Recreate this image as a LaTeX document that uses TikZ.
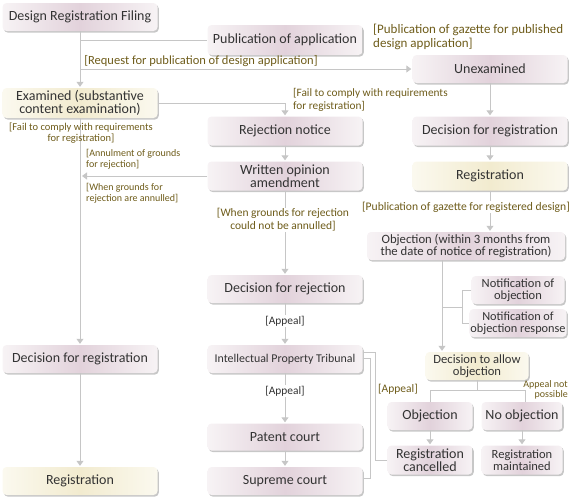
\documentclass[tikz,border=0pt]{standalone}
\usepackage{fontspec}
\usetikzlibrary{arrows.meta,shadows,calc}
\newfontfamily\boxfnt{Carlito}
\definecolor{bp}{HTML}{E2D2DB}
\definecolor{bw}{HTML}{F7F3F5}
\definecolor{yp}{HTML}{F2EBCF}
\definecolor{yw}{HTML}{FBF9EF}
\definecolor{txt}{HTML}{333333}
\definecolor{olv}{HTML}{6E5C1A}
\definecolor{lnc}{HTML}{C6C6C6}
\newcommand{\fs}[2]{\boxfnt\fontsize{#1}{#2}\selectfont}
\begin{document}
\begin{tikzpicture}[x=1pt,y=-1pt,
  box/.style={rounded corners=4pt, left color=bw, right color=bw, middle color=bp,
    drop shadow={shadow xshift=1.3pt, shadow yshift=-1.6pt, fill=black, opacity=0.22},
    minimum width=155pt, minimum height=28pt, inner sep=1pt, text=txt, align=center,
    font=\fs{14}{13.5}},
  ybox/.style={box, left color=yw, right color=yw, middle color=yp},
  ln/.style={draw=lnc, line width=1pt},
  arr/.style={ln, -{Triangle[width=7pt,length=5pt]}, shorten >=1pt},
  lbl/.style={text=olv, font=\fs{11.5}{12}, inner sep=1pt},
  blbl/.style={text=txt, font=\fs{11.4}{12}, inner sep=1pt, fill=white}
]
\useasboundingbox (0,0) rectangle (570,496);
% boxes
\node[box] (filing) at (80,17) {Design Registration Filing};
\node[box, minimum height=30pt] (pubapp) at (285,40) {Publication of application};
\node[box] (unexam) at (490,69) {Unexamined};
\node[ybox, minimum height=30pt, font=\fs{14}{13}] (exam) at (80,103) {Examined (substantive\\content examination)};
\node[box, minimum height=29pt] (rejn) at (285,131) {Rejection notice};
\node[box, minimum height=29pt] (decregR) at (490,131) {Decision for registration};
\node[box, minimum height=29pt, font=\fs{14}{13}] (written) at (285,176) {Written opinion\\amendment};
\node[ybox, minimum height=29pt] (regR) at (490,176) {Registration};
\node[box, minimum width=198pt, font=\fs{12.7}{12.5}] (objn) at (466,246) {Objection (within 3 months from\\the date of notice of registration)};
\node[box] (decrej) at (285,289) {Decision for rejection};
\node[box, minimum width=93pt, font=\fs{12.5}{12.3}] (notif1) at (518,290) {Notification of\\objection};
\node[box, minimum width=93pt, font=\fs{12.3}{12.2}] (notif2) at (518,323) {Notification of\\objection response};
\node[box] (decregL) at (80,359) {Decision for registration};
\node[box, font=\fs{11.9}{12}] (ipt) at (285,359) {Intellectual Property Tribunal};
\node[ybox, minimum width=103pt, font=\fs{12.6}{12.5}] (allow) at (477,366) {Decision to allow\\objection};
\node[box, minimum width=85pt] (obj) at (430,416) {Objection};
\node[box, minimum width=81pt] (noobj) at (522,416) {No objection};
\node[box, minimum height=27pt] (patent) at (285,437) {Patent court};
\node[box, minimum width=85pt, minimum height=29pt, font=\fs{14}{13}] (regcan) at (430,460) {Registration\\cancelled};
\node[box, minimum width=81pt, minimum height=29pt, font=\fs{12.5}{12.3}] (regmain) at (522,460) {Registration\\maintained};
\node[box] (supreme) at (285,481) {Supreme court};
\node[ybox] (regL) at (80,481) {Registration};
% connectors
\draw[arr] (filing.south) -- (exam.north);
\draw[ln] (filing.south |- pubapp.west) -- (pubapp.west);
\draw[arr] (filing.south |- unexam.west) -- (unexam.west);
\node[lbl, font=\fs{12.5}{13}] (lreq) at (201,61) {[Request for publication of design application]};
\node[lbl, anchor=west, align=left, font=\fs{13}{14}] (lgaz) at (372,37) {[Publication of gazette for published\\design application]};
\draw[arr] (unexam) -- (decregR);
\draw[arr] (decregR) -- (regR);
\draw[arr] (regR.south) -- (regR.south |- objn.north);
\node[lbl, fill=white, font=\fs{11.6}{12}] (lgreg) at (466,207) {[Publication of gazette for registered design]};
\draw[arr] (exam.east) -| (rejn.north);
\node[lbl, anchor=west, align=left, font=\fs{11.3}{13}] (lfail2) at (292,100) {[Fail to comply with requirements\\for registration]};
\draw[arr] (rejn) -- (written);
\draw[arr, shorten >=2pt] (written.west) -- (exam.south |- written.west);
\node[lbl, anchor=west, align=left, font=\fs{10}{11}] (lannul) at (85,159) {[Annulment of grounds\\for rejection]};
\node[lbl, anchor=west, align=left, font=\fs{10}{11.5}] (lwhen) at (85,193) {[When grounds for\\rejection are annulled]};
\draw[arr] (exam.south) -- (decregL.north);
\node[lbl, align=center, font=\fs{10.5}{11}] (lfail1) at (81,133) {[Fail to comply with requirements\\for registration]};
\draw[arr] (decregL) -- (regL);
\draw[arr] (written) -- (decrej);
\node[lbl, fill=white, align=center, font=\fs{11.5}{13}] (lnot) at (283,220) {[When grounds for rejection\\could not be annulled]};
\draw[arr] (decrej) -- (ipt);
\node[blbl] (lap1) at (285,321) {[Appeal]};
\draw[arr] (ipt) -- (patent);
\node[blbl] (lap2) at (285,391) {[Appeal]};
\draw[arr] (patent) -- (supreme);
\draw[arr] ([xshift=-24pt]objn.south) -- ([xshift=-24pt]objn.south |- allow.north);
\coordinate (nj) at (462,307);
\draw[ln] ([xshift=-24pt]objn.south |- nj) -- (nj);
\draw[ln] (notif1.west) -- (nj |- notif1.west) -- (nj |- notif2.west) -- (notif2.west);
\coordinate (aj) at (477,390);
\draw[ln] (allow.south) -- (allow.south |- aj);
\draw[ln] (obj.north) -- (obj.north |- aj) -- ([xshift=3pt]noobj.north |- aj) -- ([xshift=3pt]noobj.north);
\node[lbl, anchor=east] (lap3) at (419,389) {[Appeal]};
\node[lbl, anchor=east, align=right, font=\fs{10}{10.5}] (lanp) at (569,390) {Appeal not\\possible};
\draw[arr] (obj) -- (regcan);
\draw[arr] (noobj) -- (regmain);
\draw[ln] ([yshift=7pt]ipt.east) -- ++(13,0) |- (regcan.west);
\draw[ln] ([yshift=1pt]ipt.east) -- ++(8,0) |- ([yshift=3pt]supreme.east);
\end{tikzpicture}
\end{document}
